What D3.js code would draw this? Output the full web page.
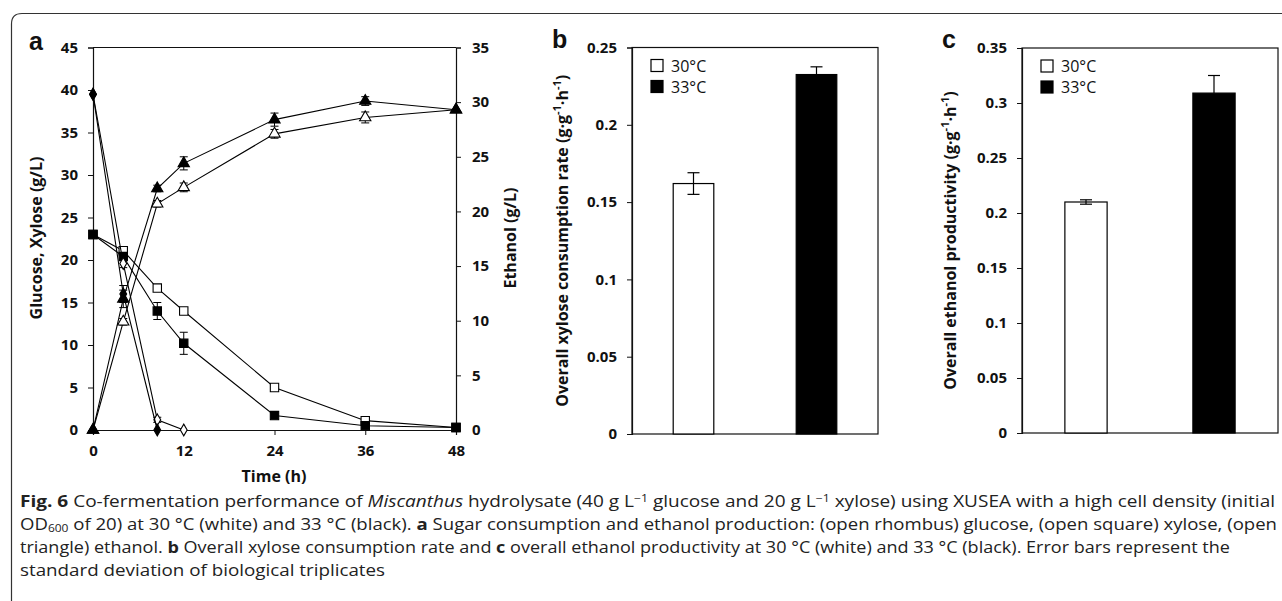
<!DOCTYPE html>
<html lang="en">
<head>
<meta charset="UTF-8">
<title>Fig. 6</title>
<script src="https://d3js.org/d3.v7.min.js"></script>
<style>
  * { margin: 0; padding: 0; }
  body { background: #fff; }
  svg text { font-family: "Open Sans", sans-serif; fill: #111; }
  .tick text { font-size: 15px; font-weight: 700; }
  .tick line, .domain { stroke: #111; }
  .ttl { font-size: 16px; font-weight: 700; }
  .panel { font-family: "Liberation Sans", Arial, sans-serif !important; font-size: 25px; font-weight: 700; }
  .leg { font-size: 16px; }
  .cap { font-size: 15.5px; fill: #222; }
</style>
</head>
<body>
<svg id="fig" width="1282" height="601"></svg>
<script>
// ---- data, panel a (time course) ----
var times = [0, 4, 8.5, 12, 24, 36, 48];
var glucose30 = [39.5, 19.6, 1.2, 0];
var glucose33 = [39.5, 16.0, 0];
var xylose30 = [23.0, 21.1, 16.7, 14.0, 5.0, 1.1, 0.3];
var xylose33 = [23.0, 20.4, 14.0, 10.2, 1.7, 0.5, 0.3];
var xylose33Err = [0, 0.4, 1.0, 1.3, 0, 0, 0];
var glucose33Err = [0, 1.0, 0];
var glucose30Err = [0, 0.5, 0.3, 0];
var ethanol30 = [0, 9.9, 20.7, 22.2, 27.1, 28.6, 29.3];
var ethanol33 = [0, 12.0, 22.1, 24.4, 28.4, 30.1, 29.3];
var ethanol30Err = [0, 0.3, 0.3, 0.4, 0.4, 0.5, 0];
var ethanol33Err = [0, 0.8, 0.3, 0.6, 0.6, 0.4, 0];
var xTicksA = [0, 12, 24, 36, 48];
var yTicksSugar = [0, 5, 10, 15, 20, 25, 30, 35, 40, 45];
var yTicksEtoh = [0, 5, 10, 15, 20, 25, 30, 35];

// ---- data, panels b and c ----
var temps = ["30°C", "33°C"];
var xyloseRate = [0.162, 0.2325];
var xyloseRateErr = [0.007, 0.005];
var etohProd = [0.21, 0.309];
var etohProdErr = [0.002, 0.016];
var yTicksB = [0, 0.05, 0.1, 0.15, 0.2, 0.25];
var yTicksC = [0, 0.05, 0.1, 0.15, 0.2, 0.25, 0.3, 0.35];

var svg = d3.select("#fig");

// outer frame
svg.append("path")
  .attr("d", "M11.5,601 V24 Q11.5,13.5 22,13.5 H1282")
  .attr("fill", "none").attr("stroke", "#333").attr("stroke-width", 1.2);

// ================= panel a =================
var A = { l: 93, r: 456, t: 47.5, b: 430 };
var x = d3.scaleLinear().domain([0, 48]).range([A.l, A.r]);
var yS = d3.scaleLinear().domain([0, 45]).range([A.b, A.t]);
var yE = d3.scaleLinear().domain([0, 35]).range([A.b, A.t]);

var ga = svg.append("g");
ga.append("line").attr("x1", A.l).attr("x2", A.r).attr("y1", A.t).attr("y2", A.t).attr("stroke", "#111").attr("stroke-width", 1.2);
ga.append("g").attr("transform", "translate(0," + A.b + ")")
  .call(d3.axisBottom(x).tickValues(xTicksA).tickSize(5).tickPadding(10));
ga.append("g").attr("transform", "translate(" + A.l + ",0)")
  .call(d3.axisLeft(yS).tickValues(yTicksSugar).tickSize(5).tickPadding(10));
ga.append("g").attr("transform", "translate(" + A.r + ",0)")
  .call(d3.axisRight(yE).tickValues(yTicksEtoh).tickSize(5).tickPadding(11));
ga.selectAll(".domain").attr("stroke-width", 1.2);

function series(vals, errs, yScale, shape, filled, size) {
  var pts = vals.map(function (v, i) { return { t: times[i], v: v, e: errs ? errs[i] : 0 }; });
  ga.append("path").datum(pts)
    .attr("fill", "none").attr("stroke", "#000").attr("stroke-width", 1.1)
    .attr("d", d3.line().x(function (d) { return x(d.t); }).y(function (d) { return yScale(d.v); }));
  var eb = ga.append("g").selectAll("g").data(pts.filter(function (d) { return d.e > 0; })).join("g");
  eb.append("line")
    .attr("x1", function (d) { return x(d.t); }).attr("x2", function (d) { return x(d.t); })
    .attr("y1", function (d) { return yScale(d.v - d.e); }).attr("y2", function (d) { return yScale(d.v + d.e); })
    .attr("stroke", "#000");
  [-1, 1].forEach(function (s) {
    eb.append("line")
      .attr("x1", function (d) { return x(d.t) - 4; }).attr("x2", function (d) { return x(d.t) + 4; })
      .attr("y1", function (d) { return yScale(d.v + s * d.e); }).attr("y2", function (d) { return yScale(d.v + s * d.e); })
      .attr("stroke", "#000");
  });
  ga.append("g").selectAll("path").data(pts).join("path")
    .attr("transform", function (d) { return "translate(" + x(d.t) + "," + yScale(d.v) + ")"; })
    .attr("d", d3.symbol().type(shape).size(size))
    .attr("fill", filled ? "#000" : "#fff").attr("stroke", "#000").attr("stroke-width", 1.1);
}
series(xylose30, null, yS, d3.symbolSquare, false, 70);
series(xylose33, xylose33Err, yS, d3.symbolSquare, true, 70);
series(ethanol30, ethanol30Err, yE, d3.symbolTriangle, false, 55);
series(ethanol33, ethanol33Err, yE, d3.symbolTriangle, true, 55);
series(glucose30, glucose30Err, yS, d3.symbolDiamond, false, 40);
series(glucose33, glucose33Err, yS, d3.symbolDiamond, true, 40);

svg.append("text").attr("class", "panel").attr("x", 29).attr("y", 50).text("a");
svg.append("text").attr("class", "ttl").attr("x", 274).attr("y", 482).attr("text-anchor", "middle").text("Time (h)");
svg.append("text").attr("class", "ttl").attr("text-anchor", "middle")
  .attr("transform", "translate(42,238) rotate(-90)").text("Glucose, Xylose (g/L)");
svg.append("text").attr("class", "ttl").attr("text-anchor", "middle")
  .attr("transform", "translate(516,238) rotate(-90)").text("Ethanol (g/L)");

// ================= bar panels =================
function barPanel(box, vals, errs, ticks, label, title, titleX) {
  var g = svg.append("g");
  var xb = d3.scalePoint().domain(temps).range([box.l, box.r]).padding(0.5);
  var yb = d3.scaleLinear().domain([0, ticks[ticks.length - 1]]).range([box.b, box.t]);
  var bw = xb.step() * 0.33;
  g.append("rect").attr("x", box.l).attr("y", box.t).attr("width", box.r - box.l).attr("height", box.b - box.t)
    .attr("fill", "none").attr("stroke", "#111").attr("stroke-width", 1.2);
  g.append("g").attr("transform", "translate(" + box.l + ",0)")
    .call(d3.axisLeft(yb).tickValues(ticks).tickSize(5).tickPadding(10).tickFormat(function (d) { return String(+d.toFixed(2)); }))
    .select(".domain").attr("stroke-width", 1.2);
  var data = temps.map(function (t, i) { return { t: t, v: vals[i], e: errs[i], i: i }; });
  g.append("g").selectAll("rect").data(data).join("rect")
    .attr("x", function (d) { return xb(d.t) - bw / 2; }).attr("width", bw)
    .attr("y", function (d) { return yb(d.v); }).attr("height", function (d) { return box.b - yb(d.v); })
    .attr("fill", function (d) { return d.i === 0 ? "#fff" : "#000"; })
    .attr("stroke", "#000").attr("stroke-width", 1.2);
  // error bars: full on the white bar, upper half on the black one
  var eb = g.append("g").selectAll("g").data(data).join("g");
  eb.append("line")
    .attr("x1", function (d) { return xb(d.t); }).attr("x2", function (d) { return xb(d.t); })
    .attr("y1", function (d) { return yb(d.v - (d.i === 0 ? d.e : 0)); }).attr("y2", function (d) { return yb(d.v + d.e); })
    .attr("stroke", "#000").attr("stroke-width", 1.2);
  eb.append("line")
    .attr("x1", function (d) { return xb(d.t) - 6; }).attr("x2", function (d) { return xb(d.t) + 6; })
    .attr("y1", function (d) { return yb(d.v + d.e); }).attr("y2", function (d) { return yb(d.v + d.e); })
    .attr("stroke", "#000").attr("stroke-width", 1.2);
  eb.filter(function (d) { return d.i === 0; }).append("line")
    .attr("x1", function (d) { return xb(d.t) - 6; }).attr("x2", function (d) { return xb(d.t) + 6; })
    .attr("y1", function (d) { return yb(d.v - d.e); }).attr("y2", function (d) { return yb(d.v - d.e); })
    .attr("stroke", "#000").attr("stroke-width", 1.2);
  // legend
  var lg = g.append("g").selectAll("g").data(temps).join("g")
    .attr("transform", function (d, i) { return "translate(" + (box.l + 19) + "," + (box.t + 12 + i * 21) + ")"; });
  lg.append("rect").attr("width", 12).attr("height", 12)
    .attr("fill", function (d, i) { return i === 0 ? "#fff" : "#000"; }).attr("stroke", "#000").attr("stroke-width", 1.2);
  lg.append("text").attr("class", "leg").attr("x", 20).attr("y", 12).text(function (d) { return d; });
  svg.append("text").attr("class", "panel").attr("x", box.l - 80).attr("y", 48).text(label);
  var tt = svg.append("text").attr("class", "ttl").attr("text-anchor", "middle")
    .attr("transform", "translate(" + titleX + "," + ((box.t + box.b) / 2) + ") rotate(-90)");
  tt.append("tspan").text(title + " (g·g");
  tt.append("tspan").attr("baseline-shift", "super").attr("font-size", "11px").text("-1");
  tt.append("tspan").text("·h");
  tt.append("tspan").attr("baseline-shift", "super").attr("font-size", "11px").text("-1");
  tt.append("tspan").text(")");
}
barPanel({ l: 632, r: 878, t: 47.5, b: 434 }, xyloseRate, xyloseRateErr, yTicksB, "b",
  "Overall xylose consumption rate", 568);
barPanel({ l: 1022, r: 1278, t: 48, b: 433 }, etohProd, etohProdErr, yTicksC, "c",
  "Overall ethanol productivity", 956);

// ================= caption =================
var cap = svg.append("g");
function capLine(y, len, parts) {
  var t = cap.append("text").attr("class", "cap").attr("x", 20).attr("y", y);
  if (len) t.attr("textLength", len).attr("lengthAdjust", "spacingAndGlyphs");
  parts.forEach(function (p) {
    var s = t.append("tspan").text(p[0]);
    if (p[1] === "b") s.attr("font-weight", 700);
    if (p[1] === "i") s.attr("font-style", "italic");
    if (p[1] === "sup") s.attr("baseline-shift", "5").attr("font-size", "10px");
    if (p[1] === "sub") s.attr("baseline-shift", "-2").attr("font-size", "10px");
  });
}
capLine(507, 1255, [["Fig. 6", "b"], ["  Co-fermentation performance of "], ["Miscanthus", "i"],
  [" hydrolysate (40 g L"], ["\u22121", "sup"], [" glucose and 20 g L"], ["\u22121", "sup"],
  [" xylose) using XUSEA with a high cell density (initial"]]);
capLine(530, 1257, [["OD"], ["600", "sub"], [" of 20) at 30 °C (white) and 33 °C (black). "], ["a", "b"],
  [" Sugar consumption and ethanol production: (open rhombus) glucose, (open square) xylose, (open"]]);
capLine(553, 1210, [["triangle) ethanol. "], ["b", "b"], [" Overall xylose consumption rate and "], ["c", "b"],
  [" overall ethanol productivity at 30 °C (white) and 33 °C (black). Error bars represent the"]]);
capLine(576, 365, [["standard deviation of biological triplicates"]]);
</script>
</body>
</html>
